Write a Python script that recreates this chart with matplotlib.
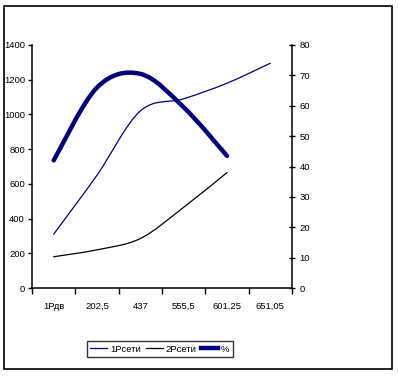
"""
Two-axis smoothed line chart (Excel style): 1Рсети, 2Рсети on the left axis,
% on the right axis.
"""
import matplotlib
matplotlib.use('Agg')
import matplotlib.pyplot as plt
from matplotlib.path import Path
from matplotlib.patches import PathPatch, Rectangle
from matplotlib.lines import Line2D

categories = ['1Рдв', '202,5', '437', '555,5', '601,25', '651,05']
p1_seti = [310, 650, 1020, 1090, 1180, 1295]
p2_seti = [180, 220, 285, 465, 665]
percent = [42, 66, 70.5, 59.5, 43.5]

left_ticks = [0, 200, 400, 600, 800, 1000, 1200, 1400]
right_ticks = [0, 10, 20, 30, 40, 50, 60, 70, 80]

NAVY = '#000080'
FS = 6.8
plt.rcParams['font.family'] = ['Liberation Sans', 'DejaVu Sans']


def smooth_path(xs, ys):
    # Bezier segments like Excel's "smoothed line" (Catmull-Rom control points)
    pts = list(zip(xs, ys))
    verts = [pts[0]]
    codes = [Path.MOVETO]
    n = len(pts)
    for i in range(n - 1):
        p0 = pts[i - 1] if i > 0 else pts[i]
        p1 = pts[i]
        p2 = pts[i + 1]
        p3 = pts[i + 2] if i + 2 < n else pts[i + 1]
        c1 = (p1[0] + (p2[0] - p0[0]) / 6, p1[1] + (p2[1] - p0[1]) / 6)
        c2 = (p2[0] - (p3[0] - p1[0]) / 6, p2[1] - (p3[1] - p1[1]) / 6)
        verts += [c1, c2, p2]
        codes += [Path.CURVE4] * 3
    return Path(verts, codes)


def add_line(ax, values, color, lw):
    xs = list(range(len(values)))
    patch = PathPatch(smooth_path(xs, values), facecolor='none',
                      edgecolor=color, linewidth=lw, capstyle='round',
                      joinstyle='round')
    ax.add_patch(patch)


W, H = 398, 376
fig = plt.figure(figsize=(W / 100, H / 100), dpi=100)
fig.patch.set_facecolor('white')

# outer chart border
fig.add_artist(Rectangle((4 / W, 1 - 369 / H), 388 / W, 363 / H,
                         transform=fig.transFigure, fill=False,
                         edgecolor='black', linewidth=1.2))

ax = fig.add_axes([32 / W, 1 - 288 / H, 260 / W, 243 / H])
ax2 = ax.twinx()

ax.set_xlim(-0.5, len(categories) - 0.5)
ax.set_ylim(0, 1400)
ax2.set_ylim(0, 80)

add_line(ax, p1_seti, NAVY, 0.9)
add_line(ax, p2_seti, 'black', 0.9)
add_line(ax2, percent, NAVY, 3.2)

for a in (ax, ax2):
    a.spines['top'].set_visible(False)
ax.spines['right'].set_visible(False)
ax2.spines['left'].set_visible(False)
ax2.spines['bottom'].set_visible(False)
for s in ('left', 'bottom'):
    ax.spines[s].set_linewidth(1.1)
ax2.spines['right'].set_linewidth(1.1)

ax.set_yticks(left_ticks)
ax.set_yticklabels([str(v) for v in left_ticks])
ax2.set_yticks(right_ticks)
ax2.set_yticklabels([str(v) for v in right_ticks])

ax.set_xticks(range(len(categories)))
ax.set_xticklabels(categories, va='baseline')
ax.set_xticks([i - 0.5 for i in range(len(categories) + 1)], minor=True)
ax.tick_params(axis='x', which='major', length=0, pad=15, labelsize=FS)
ax.tick_params(axis='x', which='minor', length=4, width=1)
ax.tick_params(axis='y', length=3, width=1, pad=2, labelsize=FS)
ax2.tick_params(axis='y', direction='inout', length=5, width=1, pad=3,
                labelsize=FS)

handles = [Line2D([], [], color=NAVY, lw=0.9),
           Line2D([], [], color='black', lw=0.9),
           Line2D([], [], color=NAVY, lw=3.2)]
leg = fig.legend(handles, ['1Рсети', '2Рсети', '%'], ncol=3,
                 loc='center', bbox_to_anchor=(160 / W, 1 - 349 / H),
                 fontsize=FS, frameon=True, fancybox=False,
                 handlelength=1.8, handletextpad=0.3, columnspacing=0.5,
                 borderpad=0.35)
leg.get_frame().set_edgecolor('black')
leg.get_frame().set_linewidth(1.0)

fig.savefig('out.png', dpi=100)
